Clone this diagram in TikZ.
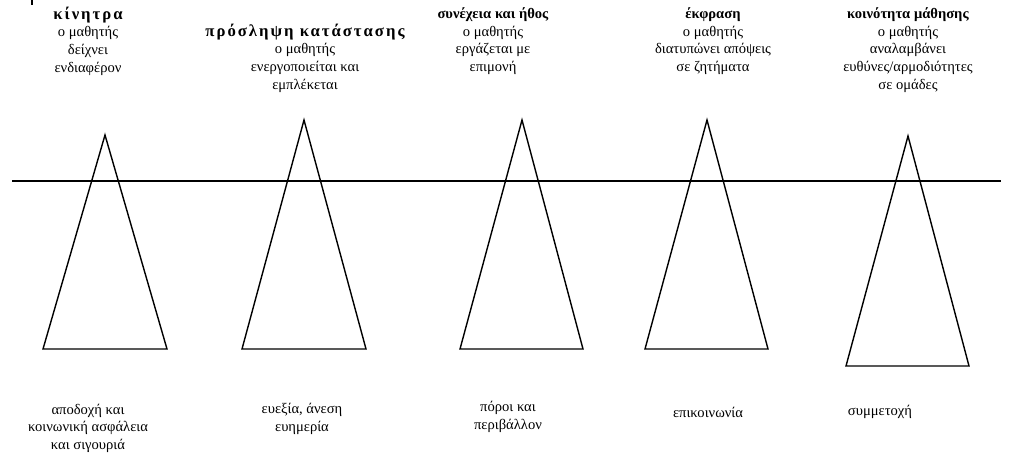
\documentclass[tikz,border=0pt]{standalone}
\usepackage{fontspec}
\setmainfont{Liberation Serif}
\newfontfamily\widehead[LetterSpace=12]{Liberation Serif}
\usetikzlibrary{positioning}

\begin{document}
\begin{tikzpicture}[x=0.02cm, y=-0.02cm,
      every node/.style={font=\fontsize{8.3}{10}\selectfont, align=center, inner sep=0pt},
      cone/.style={draw, line width=0.8pt, line join=miter},
      level/.style={line width=0.8pt}]
    \useasboundingbox (0,0) rectangle (1033,457);

    % stray mark at the top
    \draw[line width=1.2pt] (32,0) -- (32,5);

    % the level line
    \coordinate (lstart) at (12,181);
    \coordinate (lend) at (1001,181);
    \draw[level] (lstart) -- (lend);

    % the five cones
    \draw[cone] (105,135) -- (167,349) -- (43,349) -- cycle;
    \draw[cone] (304,120) -- (366,349) -- (242,349) -- cycle;
    \draw[cone] (522,120) -- (583,349) -- (460,349) -- cycle;
    \draw[cone] (707,120) -- (768,349) -- (645,349) -- cycle;
    \draw[cone] (908,136) -- (969,366) -- (846,366) -- cycle;

    % top texts
    \node (top1) at (88,41)
      {{\widehead\fontsize{9.5}{10}\selectfont\bfseries κίνητρα}\\ο μαθητής\\δείχνει\\ενδιαφέρον};
    \node (top2) at (305,58)
      {{\widehead\fontsize{9.5}{10}\selectfont\bfseries πρόσληψη κατάστασης}\\ο μαθητής\\ενεργοποιείται και\\εμπλέκεται};
    \node (top3) at (493,41)
      {\textbf{συνέχεια και ήθος}\\ο μαθητής\\εργάζεται με\\επιμονή};
    \node (top4) at (713,41)
      {\textbf{έκφραση}\\ο μαθητής\\διατυπώνει απόψεις\\σε ζητήματα};
    \node (top5) at (908,50)
      {\textbf{κοινότητα μάθησης}\\ο μαθητής\\αναλαμβάνει\\ευθύνες/αρμοδιότητες\\σε ομάδες};

    % bottom texts
    \node (base1) at (88,428) {αποδοχή και\\κοινωνική ασφάλεια\\και σιγουριά};
    \node (base2) at (302,419) {ευεξία, άνεση\\ευημερία};
    \node (base3) at (508,417) {πόροι και\\περιβάλλον};
    \node (base4) at (708,412) {επικοινωνία};
    \node (base5) at (880,412) {συμμετοχή};
  \end{tikzpicture}
\end{document}
